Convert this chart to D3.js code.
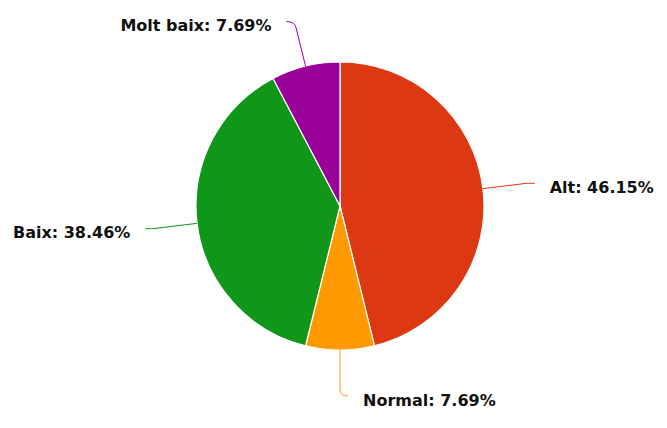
<!DOCTYPE html>
<html>
<head>
<meta charset="utf-8">
<script src="https://cdn.jsdelivr.net/npm/d3@7"></script>
<style>
  body { margin: 0; background: #fff; }
  text { font-family: "DejaVu Sans", Verdana, sans-serif; font-weight: bold; font-size: 16px; fill: #111; }
</style>
</head>
<body>
<svg id="chart" width="667" height="428"></svg>
<script>
'use strict'

// slice data, clockwise from 12 o'clock
const categories = ["Alt", "Normal", "Baix", "Molt baix"];
const values = [6, 1, 5, 1];
const colors = ["#dc3912", "#ff9900", "#109618", "#990099"];

const total = d3.sum(values);

let svg = d3.select("#chart"),
    cx = 340,
    cy = 206,
    radius = 144,
    g = svg.append("g").attr("transform", `translate(${cx},${cy})`);

let pie = d3.pie().sort(null).value(d => d.value);
let arc = d3.arc().innerRadius(0).outerRadius(radius);

let data = pie(categories.map((c, i) => ({name: c, value: values[i], color: colors[i]})));

g.selectAll(".slice")
  .data(data)
  .enter().append("path")
    .attr("class", "slice")
    .attr("d", arc)
    .attr("fill", d => d.data.color)
    .attr("stroke", "#fff")
    .attr("stroke-width", 1.2);

// leader lines: radial out, then a small hook towards the label
data.forEach(d => {
  let a = (d.startAngle + d.endAngle) / 2;
  let sx = Math.sin(a), sy = -Math.cos(a);
  let side = sx >= 0 ? 1 : -1;
  if (Math.abs(sx) < 0.01) side = 1;
  let p0 = [sx * radius, sy * radius];
  let p1 = [sx * (radius + 40), sy * (radius + 40)];
  let pc = [sx * (radius + 46), sy * (radius + 46)];
  let p2 = [pc[0] + side * 8, pc[1]];
  if (Math.abs(sx) > 0.7) {
    p1 = [sx * (radius + 44), sy * (radius + 44)];
    pc = p1;
    p2 = [p1[0] + side * 8, p1[1]];
  }
  g.append("path")
    .attr("d", `M${p0[0]},${p0[1]} L${p1[0]},${p1[1]} Q${pc[0]},${pc[1]} ${p2[0]},${p2[1]}`)
    .attr("fill", "none")
    .attr("stroke", d.data.color)
    .attr("stroke-width", 1);

  let pct = (d.data.value / total * 100).toFixed(2);
  g.append("text")
    .attr("x", p2[0] + side * 15)
    .attr("y", p2[1] + 9.5)
    .attr("text-anchor", side > 0 ? "start" : "end")
    .text(`${d.data.name}: ${pct}%`);
});
</script>
</body>
</html>
